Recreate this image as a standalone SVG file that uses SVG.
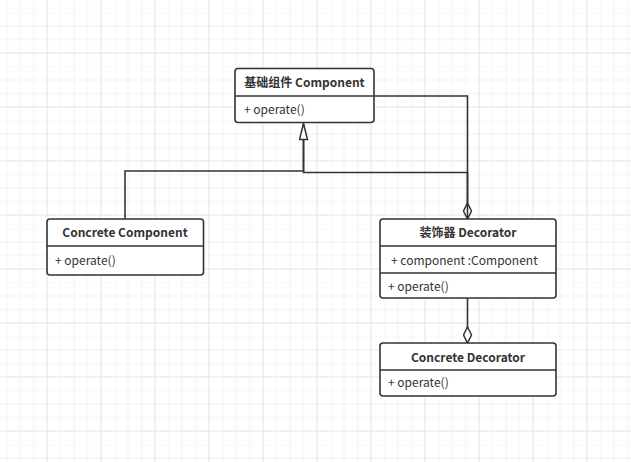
<svg xmlns="http://www.w3.org/2000/svg" width="631" height="462" viewBox="0 0 631 462">
  <style>
    .box { fill: #ffffff; stroke: #333333; stroke-width: 1.6; }
    .div { stroke: #333333; stroke-width: 1.6; fill: none; }
    .edge { fill: none; stroke: #333333; stroke-width: 1.6; }
    .t { font-family: "Noto Sans CJK SC", "Noto Sans", sans-serif; font-size: 12px; fill: #333333; }
    .title { font-weight: bold; text-anchor: middle; }
  </style>
  <defs>
    <pattern id="grid" patternUnits="userSpaceOnUse" x="6.5" y="12.5" width="54" height="54">
      <path d="M0,0 V54 M13.5,0 V54 M27,0 V54 M0,0 H54 M0,13.5 H54 M0,27 H54" stroke="#f0f0f0" stroke-width="1" fill="none"/>
      <path d="M40.5,0 V54 M0,40.5 H54" stroke="#e2e2e2" stroke-width="1" fill="none"/>
    </pattern>
    <marker id="diamond" markerUnits="userSpaceOnUse" viewBox="-1 -1 18 10" markerWidth="18" markerHeight="10" refX="16" refY="4" orient="auto">
      <path d="M0,4 L8,0 L16,4 L8,8 Z" fill="#ffffff" stroke="#333333" stroke-width="1.5"/>
    </marker>
    <marker id="tri" markerUnits="userSpaceOnUse" viewBox="-1 -1 18 10" markerWidth="18" markerHeight="10" refX="16" refY="4" orient="auto">
      <path d="M0,0 L16,4 L0,8 Z" fill="#ffffff" stroke="#333333" stroke-width="1.5"/>
    </marker>
  </defs>
  <rect width="631" height="462" fill="#ffffff"/>
  <rect width="631" height="462" fill="url(#grid)"/>

  <g id="connectors">
    <path class="edge" d="M374,96 H467.5 V219" marker-end="url(#diamond)"/>
    <path class="edge" d="M125,219 V171 H303.5 V123.5" marker-end="url(#tri)"/>
    <path class="edge" d="M467.5,219 V172.5 H303.5 V140"/>
    <path class="edge" d="M467.5,298 V343" marker-end="url(#diamond)"/>
  </g>

  <g id="component">
    <rect class="box" x="235" y="68.5" width="139" height="54" rx="3"/>
    <line class="div" x1="235" y1="96" x2="374" y2="96"/>
    <text class="t title" x="304.5" y="87">基础组件 Component</text>
    <text class="t" x="244" y="114">+ operate()</text>
  </g>

  <g id="concrete-component">
    <rect class="box" x="47" y="219" width="156.5" height="56" rx="3"/>
    <line class="div" x1="47" y1="246" x2="203.5" y2="246"/>
    <text class="t title" x="125" y="236.5">Concrete Component</text>
    <text class="t" x="55" y="264.5">+ operate()</text>
  </g>

  <g id="decorator">
    <rect class="box" x="380" y="219" width="176" height="79" rx="3"/>
    <line class="div" x1="380" y1="246" x2="556" y2="246"/>
    <line class="div" x1="380" y1="273" x2="556" y2="273"/>
    <text class="t title" x="468" y="236.5">装饰器 Decorator</text>
    <text class="t" x="391" y="264.5">+ component :Component</text>
    <text class="t" x="388" y="291">+ operate()</text>
  </g>

  <g id="concrete-decorator">
    <rect class="box" x="380" y="343" width="176" height="53" rx="3"/>
    <line class="div" x1="380" y1="370" x2="556" y2="370"/>
    <text class="t title" x="468" y="361.5">Concrete Decorator</text>
    <text class="t" x="388" y="387">+ operate()</text>
  </g>
</svg>
